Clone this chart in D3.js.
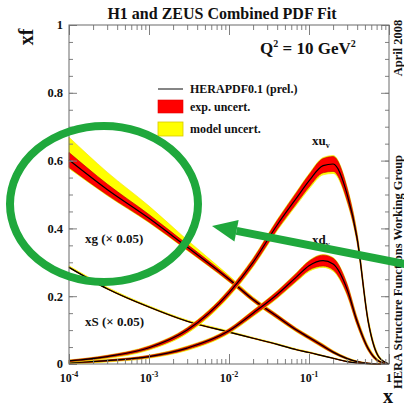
<!DOCTYPE html>
<html>
<head>
<meta charset="utf-8">
<script src="https://cdn.jsdelivr.net/npm/d3@7/dist/d3.min.js"></script>
<style>
  body { margin: 0; background: #fff; }
  svg text { font-family: "Liberation Serif", "DejaVu Serif", serif; font-weight: bold; fill: #111; }
</style>
</head>
<body>
<svg id="chart" width="404" height="406"></svg>
<script>
// sample points in x (shared by all curves)
const xGrid = [1e-4, 3e-4, 1e-3, 3e-3, 1e-2, 0.02, 0.04, 0.07, 0.1, 0.15, 0.2, 0.3, 0.4, 0.55, 0.75, 1];

// central values
const xuv = [0.009, 0.022, 0.048, 0.10, 0.21, 0.30, 0.41, 0.49, 0.54, 0.585, 0.59, 0.50, 0.37, 0.125, 0.02, 0];
const xdv = [0.004, 0.010, 0.022, 0.047, 0.098, 0.15, 0.205, 0.257, 0.29, 0.305, 0.295, 0.22, 0.125, 0.045, 0.008, 0];
const xg  = [0.602, 0.515, 0.43, 0.345, 0.25, 0.19, 0.14, 0.10, 0.078, 0.053, 0.035, 0.016, 0.007, 0.002, 0, 0];
const xS  = [0.285, 0.222, 0.168, 0.126, 0.094, 0.076, 0.058, 0.042, 0.034, 0.024, 0.017, 0.007, 0.003, 0.001, 0, 0];

// experimental uncertainty (+/-)
const xuvExp = [0.002, 0.003, 0.004, 0.006, 0.008, 0.010, 0.013, 0.016, 0.018, 0.021, 0.022, 0.018, 0.010, 0.005, 0.002, 0];
const xdvExp = [0.002, 0.002, 0.003, 0.004, 0.005, 0.007, 0.009, 0.011, 0.013, 0.016, 0.017, 0.014, 0.009, 0.005, 0.002, 0];
const xgExp  = [0.022, 0.016, 0.011, 0.008, 0.006, 0.005, 0.005, 0.004, 0.004, 0.004, 0.003, 0.002, 0.001, 0.001, 0, 0];
const xSExp  = [0.0005, 0.0005, 0.0005, 0.0005, 0.0005, 0.0005, 0.0005, 0.0005, 0.0005, 0.0005, 0.0005, 0.0005, 0, 0, 0, 0];

// model uncertainty on top of the exp. one (up / down)
const xuvModUp = [0.001, 0.001, 0.002, 0.002, 0.003, 0.003, 0.003, 0.003, 0.003, 0.003, 0.003, 0.004, 0.006, 0.006, 0.003, 0];
const xuvModDn = [0.002, 0.003, 0.003, 0.004, 0.004, 0.004, 0.004, 0.005, 0.006, 0.006, 0.006, 0.005, 0.004, 0.003, 0.002, 0];
const xdvModUp = [0.001, 0.001, 0.001, 0.002, 0.002, 0.002, 0.002, 0.002, 0.002, 0.002, 0.002, 0.003, 0.004, 0.004, 0.002, 0];
const xdvModDn = [0.002, 0.002, 0.002, 0.003, 0.003, 0.003, 0.003, 0.003, 0.004, 0.004, 0.004, 0.004, 0.003, 0.002, 0.001, 0];
const xgModUp  = [0.045, 0.035, 0.025, 0.013, 0.005, 0.003, 0.002, 0.002, 0.002, 0.002, 0.002, 0.001, 0.001, 0, 0, 0];
const xgModDn  = [0.003, 0.002, 0.002, 0.002, 0.002, 0.002, 0.002, 0.002, 0.002, 0.002, 0.001, 0.001, 0.001, 0, 0, 0];
const xSModUp  = [0.004, 0.004, 0.003, 0.003, 0.003, 0.002, 0.002, 0.002, 0.002, 0.001, 0.001, 0.001, 0, 0, 0, 0];
const xSModDn  = [0.001, 0.001, 0.001, 0.001, 0.001, 0.001, 0.001, 0.001, 0.001, 0.001, 0, 0, 0, 0, 0, 0];

const yMajor = [0, 0.2, 0.4, 0.6, 0.8, 1];
const yMinor = d3.range(0, 1.0001, 0.05);
const xMajor = [1e-4, 1e-3, 1e-2, 1e-1, 1];
const xLabels = ['-4', '-3', '-2', '-1', ''];

const margin = { top: 25, right: 15, bottom: 42, left: 69 };
const width = 404, height = 406;

const svg = d3.select('#chart');

const x = d3.scaleLog().domain([1e-4, 1]).range([margin.left, width - margin.right]);
const y = d3.scaleLinear().domain([0, 1]).range([height - margin.bottom, margin.top]);

// ---- curves ----
const series = [
  { c: xg,  e: xgExp,  up: xgModUp,  dn: xgModDn },
  { c: xS,  e: xSExp,  up: xSModUp,  dn: xSModDn },
  { c: xdv, e: xdvExp, up: xdvModUp, dn: xdvModDn },
  { c: xuv, e: xuvExp, up: xuvModUp, dn: xuvModDn }
];

const band = d3.area()
  .x(d => x(d.x))
  .y0(d => y(d.lo))
  .y1(d => y(d.hi))
  .curve(d3.curveMonotoneX);

const line = d3.line()
  .x(d => x(d.x))
  .y(d => y(d.v))
  .curve(d3.curveMonotoneX);

const curves = svg.append('g');

series.forEach(s => {
  const model = xGrid.map((xv, i) => ({ x: xv, lo: s.c[i] - s.e[i] - s.dn[i], hi: s.c[i] + s.e[i] + s.up[i] }));
  const exp = xGrid.map((xv, i) => ({ x: xv, lo: s.c[i] - s.e[i], hi: s.c[i] + s.e[i] }));
  const cen = xGrid.map((xv, i) => ({ x: xv, v: s.c[i] }));

  curves.append('path').attr('d', band(model))
    .attr('fill', '#ffff00').attr('stroke', '#f2e000').attr('stroke-width', 0.6);
  curves.append('path').attr('d', band(exp))
    .attr('fill', '#ff0000').attr('stroke', '#b00000').attr('stroke-width', 0.6);
  curves.append('path').attr('d', line(cen))
    .attr('fill', 'none').attr('stroke', '#000').attr('stroke-width', 1.2);
});

// ---- axes (ticks inward) ----
const xMinor = x.ticks().filter(t => xMajor.indexOf(t) < 0);
const tickCol = '#808080';

function styleAxis(g) {
  g.select('.domain').remove();
  g.selectAll('.tick line').attr('stroke', tickCol);
  g.selectAll('.tick text').remove();
}

const plotBottom = height - margin.bottom;
const plotRight = width - margin.right;

svg.append('g').attr('transform', `translate(0,${plotBottom})`)
  .call(d3.axisBottom(x).tickValues(xMajor).tickSize(-10).tickFormat('')).call(styleAxis);
svg.append('g').attr('transform', `translate(0,${plotBottom})`)
  .call(d3.axisBottom(x).tickValues(xMinor).tickSize(-5).tickFormat('')).call(styleAxis);
svg.append('g').attr('transform', `translate(0,${margin.top})`)
  .call(d3.axisTop(x).tickValues(xMajor).tickSize(-10).tickFormat('')).call(styleAxis);
svg.append('g').attr('transform', `translate(0,${margin.top})`)
  .call(d3.axisTop(x).tickValues(xMinor).tickSize(-5).tickFormat('')).call(styleAxis);

svg.append('g').attr('transform', `translate(${margin.left},0)`)
  .call(d3.axisLeft(y).tickValues(yMajor).tickSize(-8).tickFormat('')).call(styleAxis);
svg.append('g').attr('transform', `translate(${margin.left},0)`)
  .call(d3.axisLeft(y).tickValues(yMinor).tickSize(-4).tickFormat('')).call(styleAxis);
svg.append('g').attr('transform', `translate(${plotRight},0)`)
  .call(d3.axisRight(y).tickValues(yMajor).tickSize(-8).tickFormat('')).call(styleAxis);
svg.append('g').attr('transform', `translate(${plotRight},0)`)
  .call(d3.axisRight(y).tickValues(yMinor).tickSize(-4).tickFormat('')).call(styleAxis);

svg.append('rect')
  .attr('x', margin.left).attr('y', margin.top)
  .attr('width', plotRight - margin.left).attr('height', plotBottom - margin.top)
  .attr('fill', 'none').attr('stroke', '#6a6a6a').attr('stroke-width', 1);

// tick labels
svg.append('g').selectAll('text').data(yMajor).join('text')
  .attr('x', margin.left - 6).attr('y', d => y(d)).attr('dy', '0.35em')
  .attr('text-anchor', 'end').style('font-size', '12.5px')
  .text(d => d === 0 ? '0' : d === 1 ? '1' : d.toFixed(1));

const xl = svg.append('g').selectAll('text').data(xMajor).join('text')
  .attr('x', d => x(d)).attr('y', plotBottom + 18)
  .attr('text-anchor', 'middle').style('font-size', '12px');
xl.append('tspan').text(d => d === 1 ? '1' : '10');
xl.append('tspan').attr('dy', -5).style('font-size', '8px').text((d, i) => xLabels[i]);

// axis titles
svg.append('text').attr('x', 388).attr('y', 403).attr('text-anchor', 'middle')
  .style('font-size', '20px').text('x');
svg.append('text').attr('transform', 'translate(33,37) rotate(-90)').attr('text-anchor', 'middle')
  .style('font-size', '20px').text('xf');

// title
svg.append('text').attr('x', 222).attr('y', 19).attr('text-anchor', 'middle')
  .style('font-size', '16px').text('H1 and ZEUS Combined PDF Fit');

// Q2
const q = svg.append('text').attr('x', 260).attr('y', 54).style('font-size', '17px');
q.append('tspan').text('Q');
q.append('tspan').attr('dy', -7).style('font-size', '10px').text('2');
q.append('tspan').attr('dy', 7).text(' = 10 GeV');
q.append('tspan').attr('dy', -7).style('font-size', '10px').text('2');

// right margin texts
svg.append('text').attr('transform', 'translate(402,48) rotate(-90)').attr('text-anchor', 'middle')
  .style('font-size', '12.5px').text('April 2008');
svg.append('text').attr('transform', 'translate(402,272) rotate(-90)').attr('text-anchor', 'middle')
  .style('font-size', '12.5px').text('HERA Structure Functions Working Group');

// legend
const lg = svg.append('g');
lg.append('line').attr('x1', 158).attr('x2', 183).attr('y1', 89).attr('y2', 89)
  .attr('stroke', '#333').attr('stroke-width', 1.2);
lg.append('rect').attr('x', 158).attr('y', 100).attr('width', 25).attr('height', 13)
  .attr('fill', '#ff0000').attr('stroke', '#e00000').attr('stroke-width', 0.6);
lg.append('rect').attr('x', 158).attr('y', 122).attr('width', 25).attr('height', 14)
  .attr('fill', '#ffff00').attr('stroke', '#d8c800').attr('stroke-width', 0.8);
const legendText = ['HERAPDF0.1 (prel.)', 'exp. uncert.', 'model uncert.'];
const legendY = [93, 111, 133];
lg.selectAll('text').data(legendText).join('text')
  .attr('x', 190).attr('y', (d, i) => legendY[i]).style('font-size', '12px').text(d => d);

// curve labels
function label(xp, yp, main, sub) {
  const t = svg.append('text').attr('x', xp).attr('y', yp).style('font-size', '13px');
  t.append('tspan').text(main);
  if (sub) t.append('tspan').attr('dy', 3).style('font-size', '8px').text(sub);
}
label(312, 145, 'xu', 'v');
label(312, 244, 'xd', 'v');
label(85, 243, 'xg (\u00d7 0.05)');
label(85, 326, 'xS (\u00d7 0.05)');

// green annotation: ellipse and arrow
const green = '#1fa83c';
svg.append('ellipse').attr('cx', 104).attr('cy', 204).attr('rx', 94).attr('ry', 78)
  .attr('fill', 'none').attr('stroke', green).attr('stroke-width', 8);

const tip = [212, 226], tail = [410, 265];
const dx = tail[0] - tip[0], dy = tail[1] - tip[1];
const len = Math.hypot(dx, dy);
const ux = dx / len, uy = dy / len;
const headLen = 25, headHalf = 11;
const base = [tip[0] + ux * headLen, tip[1] + uy * headLen];
svg.append('line').attr('x1', base[0]).attr('y1', base[1]).attr('x2', tail[0]).attr('y2', tail[1])
  .attr('stroke', green).attr('stroke-width', 8);
svg.append('path')
  .attr('d', `M${tip[0]},${tip[1]}L${base[0] - uy * headHalf},${base[1] + ux * headHalf}L${base[0] + uy * headHalf},${base[1] - ux * headHalf}Z`)
  .attr('fill', green);
</script>
</body>
</html>
